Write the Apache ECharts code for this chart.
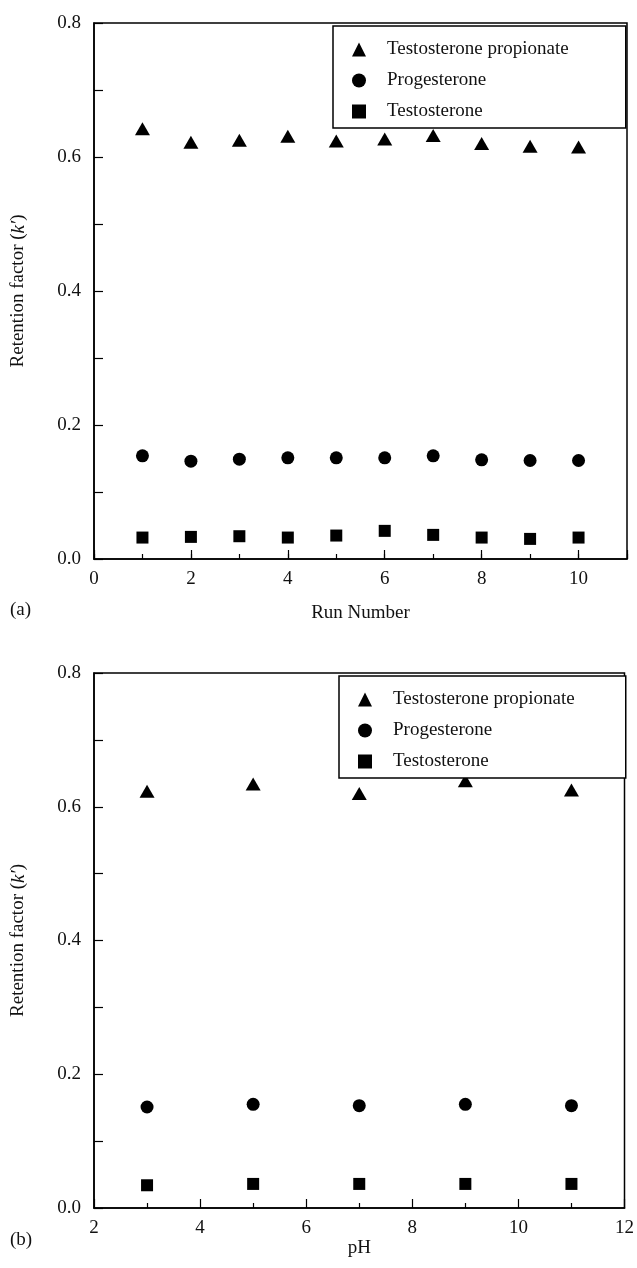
<!DOCTYPE html>
<html>
<head>
<meta charset="utf-8">
<title>Retention factor</title>
<script src="https://cdn.jsdelivr.net/npm/echarts@6/dist/echarts.min.js"></script>
<style>
  html, body { margin: 0; padding: 0; background: #fff; }
  #chart { width: 637px; height: 1268px; }
</style>
</head>
<body>
<div id="chart"></div>
<script>
// (a) repeatability over ten runs
const runNumbers = [1, 2, 3, 4, 5, 6, 7, 8, 9, 10];
const runTestosteronePropionate = [0.642, 0.622, 0.625, 0.631, 0.624, 0.627, 0.632, 0.620, 0.616, 0.615];
const runProgesterone = [0.154, 0.146, 0.149, 0.151, 0.151, 0.151, 0.154, 0.148, 0.147, 0.147];
const runTestosterone = [0.032, 0.033, 0.034, 0.032, 0.035, 0.042, 0.036, 0.032, 0.030, 0.032];

// (b) effect of pH
const pHValues = [3, 5, 7, 9, 11];
const pHTestosteronePropionate = [0.623, 0.634, 0.620, 0.639, 0.625];
const pHProgesterone = [0.151, 0.155, 0.153, 0.155, 0.153];
const pHTestosterone = [0.034, 0.036, 0.036, 0.036, 0.036];

const seriesNames = ['Testosterone propionate', 'Progesterone', 'Testosterone'];
const yTicks = [0, 0.2, 0.4, 0.6, 0.8];

const FONT = '"Liberation Serif", "Times New Roman", serif';
const INK = '#111';
const FS = 19;

const pairs = (xs, ys) => xs.map((x, i) => [x, ys[i]]);

function yAxisFor(gridIndex) {
  return {
    type: 'value', gridIndex,
    min: yTicks[0], max: yTicks[yTicks.length - 1], interval: 0.2,
    axisLine: { show: true, onZero: false, lineStyle: { color: '#000', width: 1.5 } },
    axisTick: { show: true, inside: true, length: 9, lineStyle: { color: '#000', width: 1.2 } },
    minorTick: { show: true, splitNumber: 2, length: 9, lineStyle: { color: '#000', width: 1.2 } },
    splitLine: { show: false },
    axisLabel: { formatter: v => v.toFixed(1), margin: 13, fontSize: FS, fontFamily: FONT, color: INK },
    name: 'Retention factor ({k|k\u2032})',
    nameLocation: 'middle', nameGap: 66,
    nameTextStyle: { fontSize: FS, fontFamily: FONT, color: INK,
      rich: { k: { fontStyle: 'italic', fontSize: FS, fontFamily: FONT, color: INK } } }
  };
}

function legendFor(left, top, rightPad) {
  return {
    orient: 'vertical', left, top,
    data: seriesNames,
    itemWidth: 14, itemHeight: 14, itemGap: 12,
    padding: [14, rightPad, 7, 19],
    backgroundColor: '#fff',
    borderColor: '#000', borderWidth: 1.5, borderRadius: 0,
    selectedMode: false,
    itemStyle: { opacity: 1 },
    textStyle: { fontSize: FS, fontFamily: FONT, color: INK, padding: [0, 0, 0, 16] }
  };
}

function scatterSet(xAxisIndex, yAxisIndex, xs, tp, prog, test) {
  const base = { type: 'scatter', xAxisIndex, yAxisIndex,
    itemStyle: { color: '#000', opacity: 1 }, emphasis: { disabled: true } };
  return [
    Object.assign({}, base, { name: seriesNames[0], symbol: 'triangle', symbolSize: [15, 13], data: pairs(xs, tp) }),
    Object.assign({}, base, { name: seriesNames[1], symbol: 'circle', symbolSize: 13, data: pairs(xs, prog) }),
    Object.assign({}, base, { name: seriesNames[2], symbol: 'rect', symbolSize: 12, data: pairs(xs, test) })
  ];
}

const gridBase = { show: true, borderColor: '#000', borderWidth: 1.5, backgroundColor: 'transparent' };

const option = {
  animation: false,
  backgroundColor: '#fff',
  textStyle: { fontFamily: FONT },
  grid: [
    Object.assign({ left: 94, top: 23, width: 533, height: 536 }, gridBase),
    Object.assign({ left: 94, top: 673, width: 533, height: 535 }, gridBase)
  ],
  legend: [legendFor(333, 26, 57), legendFor(339, 676, 51)],
  xAxis: [
    { // run number: every unit gets a short tick, even numbers are labelled
      type: 'value', gridIndex: 0, position: 'bottom', min: 0, max: 11, interval: 1,
      axisLine: { show: true, onZero: false, lineStyle: { color: '#000', width: 1.5 } },
      axisTick: { show: true, inside: true, length: 5, lineStyle: { color: '#000', width: 1.2 } },
      splitLine: { show: false },
      axisLabel: { formatter: v => (v % 2 === 0 && v <= 10) ? String(v) : '', margin: 11,
        fontSize: FS, fontFamily: FONT, color: INK },
      name: 'Run Number', nameLocation: 'middle', nameGap: 45,
      nameTextStyle: { fontSize: FS, fontFamily: FONT, color: INK }
    },
    { // longer ticks at the labelled even run numbers
      type: 'value', gridIndex: 0, position: 'bottom', min: 0, max: 11, interval: 2,
      axisLine: { show: false },
      axisTick: { show: true, inside: true, length: 9, lineStyle: { color: '#000', width: 1.2 } },
      splitLine: { show: false },
      axisLabel: { show: false }
    },
    {
      type: 'value', gridIndex: 1, position: 'bottom', min: 2, max: 12, interval: 2,
      axisLine: { show: true, onZero: false, lineStyle: { color: '#000', width: 1.5 } },
      axisTick: { show: true, inside: true, length: 9, lineStyle: { color: '#000', width: 1.2 } },
      minorTick: { show: true, splitNumber: 2, length: 5, lineStyle: { color: '#000', width: 1.2 } },
      splitLine: { show: false },
      axisLabel: { margin: 11, fontSize: FS, fontFamily: FONT, color: INK },
      name: 'pH', nameLocation: 'middle', nameGap: 31,
      nameTextStyle: { fontSize: FS, fontFamily: FONT, color: INK }
    }
  ],
  yAxis: [yAxisFor(0), yAxisFor(1)],
  series: [
    ...scatterSet(0, 0, runNumbers, runTestosteronePropionate, runProgesterone, runTestosterone),
    ...scatterSet(2, 1, pHValues, pHTestosteronePropionate, pHProgesterone, pHTestosterone)
  ],
  graphic: [
    { type: 'text', left: 10, top: 601, style: { text: '(a)', font: FS + 'px ' + FONT, fill: INK } },
    { type: 'text', left: 10, top: 1231, style: { text: '(b)', font: FS + 'px ' + FONT, fill: INK } }
  ]
};

const chart = echarts.init(document.getElementById('chart'), null, { renderer: 'canvas' });
chart.setOption(option);
</script>
</body>
</html>
